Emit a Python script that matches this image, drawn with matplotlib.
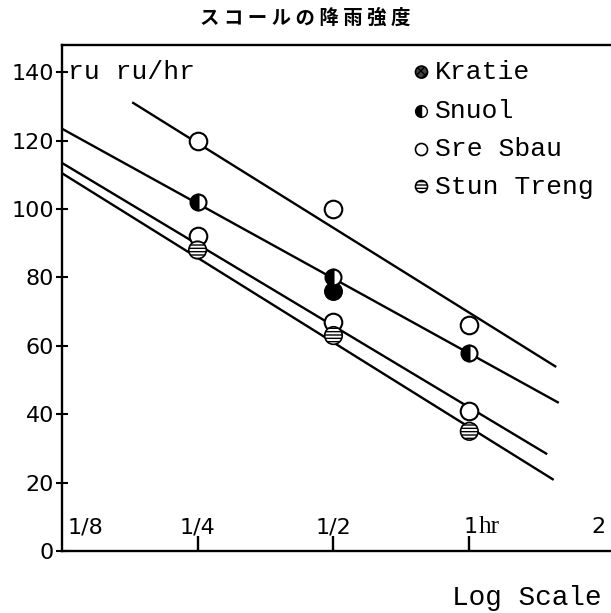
import matplotlib
matplotlib.use("Agg")
import matplotlib.pyplot as plt

# rainfall duration (hr) and intensity (mm/hr)
durations = [0.25, 0.5, 1.0]

sre_sbau = [120, 100, 66]
snuol = [102, 80, 58]
kratie = [92, 67, 41]
stun_treng = [88, 63, 35]

# single solid point under the Snuol one at 1/2 hr
solid_x = [0.5]
solid_y = [76]

# fitted lines: end points (hr) and values at those ends
fit_x = {
    "sre_sbau": [0.18, 1.55],
    "snuol": [0.125, 1.57],
    "kratie": [0.125, 1.48],
    "stun_treng": [0.125, 1.53],
}
fit_y = {
    "sre_sbau": [131, 54],
    "snuol": [123.5, 43.5],
    "kratie": [113.5, 28.5],
    "stun_treng": [110.5, 21],
}

y_ticks = [0, 20, 40, 60, 80, 100, 120, 140]
x_tick_pos = [0.25, 0.5, 1.0]
x_labels = ["1/8", "1/4", "1/2", "1", "2"]
x_label_pos = [0.125, 0.25, 0.5, 1.0, 2.0]
legend_names = ["Kratie", "Snuol", "Sre Sbau", "Stun Treng"]

TYPE = "Liberation Mono"

fig = plt.figure(figsize=(6.11, 6.13), dpi=100)
ax = fig.add_axes([0.101, 0.101, 0.899, 0.826])

ax.set_xscale("log", base=2)
ax.set_xlim(0.125, 2.06)
ax.set_ylim(0, 148)

for key in fit_x:
    ax.plot(fit_x[key], fit_y[key], color="black", lw=1.7, zorder=2)

ms = 160
ax.scatter(durations, sre_sbau, s=ms, facecolor="white", edgecolor="black",
           linewidth=1.5, zorder=3)
ax.scatter(durations, kratie, s=ms, facecolor="white", edgecolor="black",
           linewidth=1.5, zorder=3)
ax.scatter(durations, stun_treng, s=ms, facecolor="white", edgecolor="black",
           linewidth=1.2, hatch="-----", zorder=3)
ax.plot(durations, snuol, ls="none", marker="o", markersize=11.5,
        markerfacecolor="black", markerfacecoloralt="white", fillstyle="left",
        markeredgecolor="black", markeredgewidth=1.5, zorder=4)
ax.scatter(solid_x, solid_y, s=ms, facecolor="black", edgecolor="black", zorder=3)

# axes styling
ax.spines["right"].set_visible(False)
for side in ["left", "bottom", "top"]:
    ax.spines[side].set_linewidth(1.7)

ax.set_yticks(y_ticks)
ax.set_yticklabels([str(v) for v in y_ticks], fontsize=16)
ax.tick_params(axis="y", direction="inout", length=9, width=1.5, pad=1)
ax.set_xticks(x_tick_pos)
ax.set_xticklabels([])
ax.xaxis.set_minor_locator(plt.NullLocator())
ax.tick_params(axis="x", direction="in", length=11, width=1.7)

for lab, pos in zip(x_labels, x_label_pos):
    if lab == "1/8":
        ax.annotate(lab, (pos, 7), xytext=(4, 0), textcoords="offset points",
                    ha="left", va="center", fontsize=16)
    elif lab == "1":
        ax.annotate(lab, (pos, 7), xytext=(-4, 0), textcoords="offset points",
                    ha="left", va="center", fontsize=16)
        ax.annotate("hr", (pos, 7), xytext=(7, 0), textcoords="offset points",
                    ha="left", va="center", fontsize=18, family="Liberation Serif")
    elif lab == "2":
        ax.annotate(lab, (pos, 7), xytext=(-5, 0), textcoords="offset points",
                    ha="center", va="center", fontsize=16)
    else:
        ax.text(pos, 7, lab, ha="center", va="center", fontsize=16)

ax.text(0.011, 0.947, "ru ru/hr", transform=ax.transAxes, ha="left",
        va="center", fontsize=19, family=TYPE)

# legend drawn by hand to match the printed layout
rows = [0.946, 0.870, 0.795, 0.720]
lx = 0.655
ax.scatter([lx], [rows[0]], s=75, transform=ax.transAxes, facecolor="#444444",
           edgecolor="black", hatch="xxxx", linewidth=1.2, clip_on=False)
ax.plot([lx], [rows[1]], transform=ax.transAxes, marker="o", markersize=8.5,
        markerfacecolor="black", markerfacecoloralt="white", fillstyle="left",
        markeredgecolor="black", clip_on=False)
ax.scatter([lx], [rows[2]], s=75, transform=ax.transAxes, facecolor="white",
           edgecolor="black", linewidth=1.2, clip_on=False)
ax.scatter([lx], [rows[3]], s=75, transform=ax.transAxes, facecolor="white",
           edgecolor="black", hatch="-----", linewidth=1.2, clip_on=False)
for name, ry in zip(legend_names, rows):
    ax.text(lx + 0.024, ry, name, transform=ax.transAxes, ha="left",
            va="center", fontsize=19, family=TYPE)

fig.text(0.5, 0.971, "ス コ ー ル の 降 雨 強 度", ha="center", va="center",
         fontsize=14, fontweight="bold", family=["Noto Sans CJK JP", "DejaVu Sans"])
fig.text(0.985, 0.0245, "Log Scale", ha="right", va="center", fontsize=20,
         family=TYPE)

fig.savefig("out.png", dpi=100)
